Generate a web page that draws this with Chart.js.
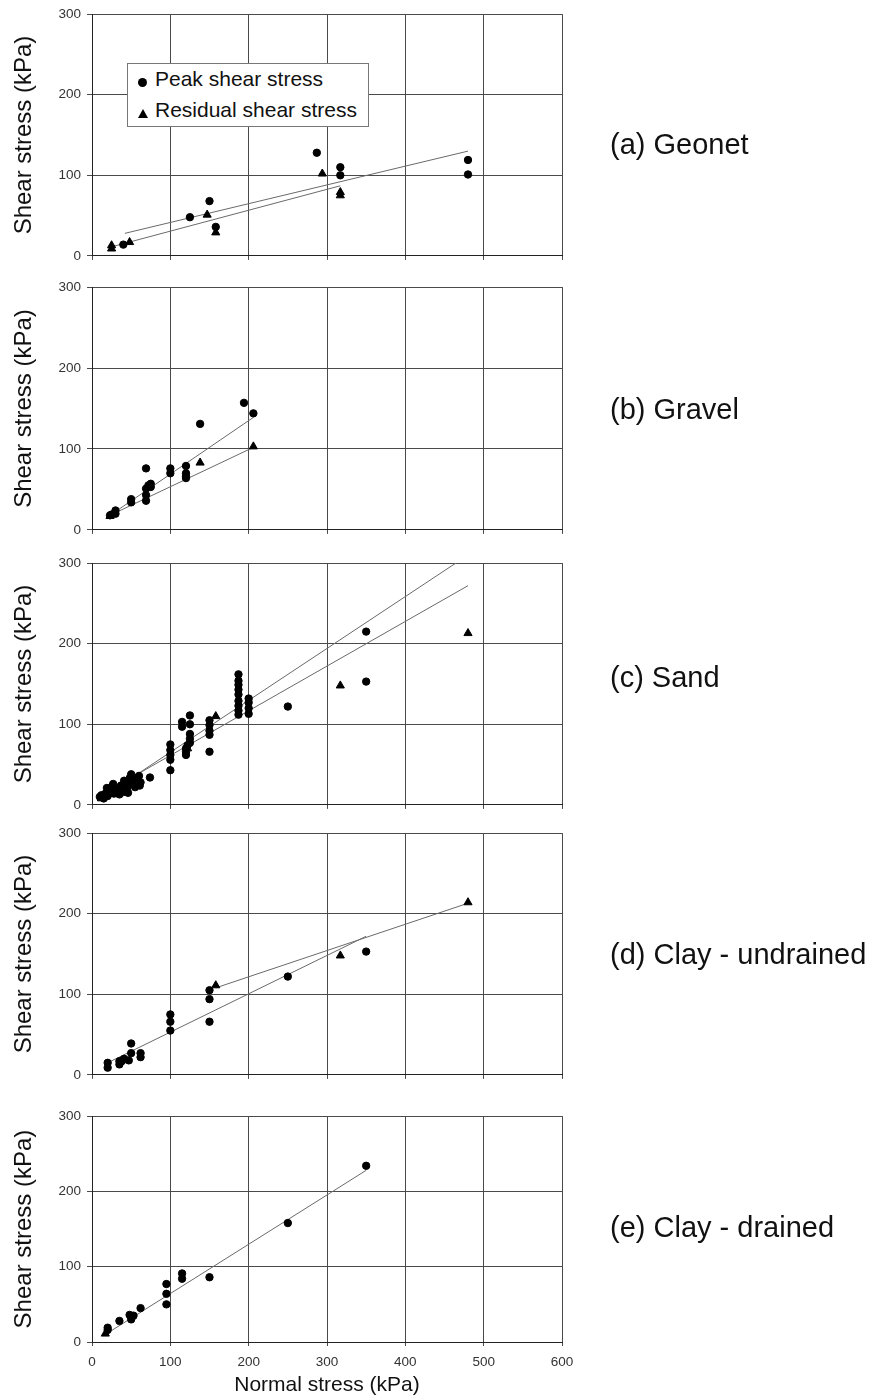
<!DOCTYPE html>
<html>
<head>
<meta charset="utf-8">
<script src="https://cdn.jsdelivr.net/npm/chart.js@4.4.1/dist/chart.umd.min.js"></script>
<style>
  body { margin: 0; background: #fff; width: 873px; height: 1398px; position: relative; overflow: hidden;
         font-family: 'Liberation Sans', Arial, sans-serif; }
  canvas { position: absolute; left: 0; }
  .panel-label { position: absolute; left: 610px; font-size: 29px; line-height: 34px; color: #111; white-space: nowrap; }
  #legend { position: absolute; left: 127px; top: 63px; width: 242px; height: 64px; box-sizing: border-box;
            border: 1px solid #777; background: #fff; }
  .leg-text { position: absolute; left: 27px; font-size: 21px; line-height: 24px; color: #111; white-space: nowrap; }
  .leg-dot { position: absolute; left: 10px; width: 9px; height: 9px; border-radius: 50%; background: #000; }
  .leg-tri { position: absolute; left: 10px; width: 0; height: 0; border-left: 5px solid transparent;
             border-right: 5px solid transparent; border-bottom: 9px solid #000; }
</style>
</head>
<body>
<canvas id="panelA" width="873" height="270" style="top:0px"></canvas>
<canvas id="panelB" width="873" height="271" style="top:273px"></canvas>
<canvas id="panelC" width="873" height="270" style="top:549px"></canvas>
<canvas id="panelD" width="873" height="270" style="top:819px"></canvas>
<canvas id="panelE" width="873" height="296" style="top:1102px"></canvas>

<div id="legend">
  <div class="leg-dot" style="top:14px"></div>
  <div class="leg-text" style="top:3px">Peak shear stress</div>
  <div class="leg-tri" style="top:45px"></div>
  <div class="leg-text" style="top:34px">Residual shear stress</div>
</div>

<div class="panel-label" style="top:127px">(a) Geonet</div>
<div class="panel-label" style="top:392px">(b) Gravel</div>
<div class="panel-label" style="top:660px">(c) Sand</div>
<div class="panel-label" style="top:937px">(d) Clay - undrained</div>
<div class="panel-label" style="top:1210px">(e) Clay - drained</div>

<script>
// [normal stress, shear stress] in kPa
const geonetPeak = [[40,14],[125,48],[150,68],[158,36],[287,128],[317,110],[317,100],[480,119],[480,101]];
const geonetResidual = [[25,13],[25,9],[48,17],[147,51],[158,29],[294,102],[317,79],[317,75]];
const geonetFits = [[[42,28],[480,130]], [[24,11],[317,87]]];

const gravelPeak = [[23,18],[25,19],[30,20],[30,24],[50,38],[50,34],[69,76],[69,51],[69,43],[69,36],
  [72,55],[75,53],[75,57],[100,76],[100,70],[120,79],[120,70],[120,66],[120,64],[138,131],[194,157],[206,144]];
const gravelResidual = [[23,17],[138,83],[206,103]];
const gravelFits = [[[23,18],[206,139]], [[23,18],[206,102]]];

const sandPeak = [[10,10],[12,12],[15,8],[17,14],[19,21],[20,11],[22,17],[25,22],[27,26],[28,14],[30,18],
  [33,20],[35,13],[37,24],[38,19],[40,16],[41,30],[43,26],[45,22],[46,15],[48,33],[50,38],[50,31],[52,27],
  [55,22],[57,33],[60,36],[61,24],[62,28],[74,34],
  [100,75],[100,68],[100,62],[100,56],[100,43],
  [115,103],[115,97],[120,62],[120,66],[120,70],[122,74],[125,111],[125,100],[125,88],[125,82],[125,77],
  [150,105],[150,99],[150,92],[150,87],[150,66],
  [187,162],[187,154],[187,149],[187,143],[187,137],[187,129],[187,123],[187,117],[187,112],
  [200,132],[200,127],[200,120],[200,113],
  [250,122],[350,215],[350,153]];
const sandResidual = [[12,8],[30,15],[122,70],[158,110],[317,148],[480,213]];
const sandFits = [[[11,8],[480,310]], [[11,12],[480,272]]];

const clayUPeak = [[20,15],[20,9],[35,13],[35,17],[38,17],[41,20],[47,18],[50,39],[50,27],[62,27],[62,22],
  [100,75],[100,66],[100,55],[150,105],[150,94],[150,66],[250,122],[350,153]];
const clayUResidual = [[158,111],[317,148],[480,214]];
const clayUFits = [[[20,15],[350,172]], [[158,108],[480,213]]];

const clayDPeak = [[20,19],[20,16],[35,28],[48,36],[50,30],[53,35],[62,45],[95,77],[95,64],[95,50],
  [115,91],[115,84],[150,86],[250,158],[350,234]];
const clayDResidual = [[17,11]];
const clayDFits = [[[17,10],[350,228]]];

const xTicks = [0, 100, 200, 300, 400, 500, 600];
const yTicks = [0, 100, 200, 300];

const FONT = "'Liberation Sans', Arial, sans-serif";
const toXY = arr => arr.map(p => ({ x: p[0], y: p[1] }));

function makePanel(id, peak, residual, fits, isLast) {
  const datasets = [
    { data: toXY(peak), pointStyle: 'circle', pointRadius: 3.7, pointBorderWidth: 1,
      pointBackgroundColor: '#000', pointBorderColor: '#000', showLine: false },
    { data: toXY(residual), pointStyle: 'triangle', pointRadius: 4.7, pointBorderWidth: 1,
      pointBackgroundColor: '#000', pointBorderColor: '#000', showLine: false }
  ];
  fits.forEach(f => datasets.push({
    data: toXY(f), showLine: true, pointRadius: 0, borderColor: '#6a6a6a', borderWidth: 1, fill: false
  }));

  new Chart(document.getElementById(id), {
    type: 'scatter',
    data: { datasets },
    options: {
      responsive: false,
      animation: false,
      devicePixelRatio: 1,
      layout: { padding: { top: 14, right: 311, left: 0, bottom: 0 } },
      plugins: { legend: { display: false }, tooltip: { enabled: false } },
      scales: {
        x: {
          type: 'linear', min: xTicks[0], max: xTicks[xTicks.length - 1],
          afterBuildTicks: s => { s.ticks = xTicks.map(v => ({ value: v })); },
          afterFit: s => { s.height = isLast ? 56 : 10; },
          ticks: { display: isLast, color: '#333', padding: 8, font: { family: FONT, size: 13.5 } },
          grid: { color: '#4a4a4a', lineWidth: 1, tickLength: 4 },
          border: { color: '#222', width: 1 },
          title: { display: isLast, text: 'Normal stress (kPa)', color: '#111',
                   font: { family: FONT, size: 21 }, padding: { top: 0, bottom: 0 } }
        },
        y: {
          type: 'linear', min: yTicks[0], max: yTicks[yTicks.length - 1],
          afterBuildTicks: s => { s.ticks = yTicks.map(v => ({ value: v })); },
          afterFit: s => { s.width = 92; },
          ticks: { color: '#333', padding: 6, font: { family: FONT, size: 13.5 } },
          grid: { color: '#4a4a4a', lineWidth: 1, tickLength: 5 },
          border: { color: '#222', width: 1 },
          title: { display: true, text: 'Shear stress (kPa)', color: '#111',
                   font: { family: FONT, size: 24 }, padding: { top: 10, bottom: 0 } }
        }
      }
    }
  });
}

makePanel('panelA', geonetPeak, geonetResidual, geonetFits, false);
makePanel('panelB', gravelPeak, gravelResidual, gravelFits, false);
makePanel('panelC', sandPeak, sandResidual, sandFits, false);
makePanel('panelD', clayUPeak, clayUResidual, clayUFits, false);
makePanel('panelE', clayDPeak, clayDResidual, clayDFits, true);
</script>
</body>
</html>
